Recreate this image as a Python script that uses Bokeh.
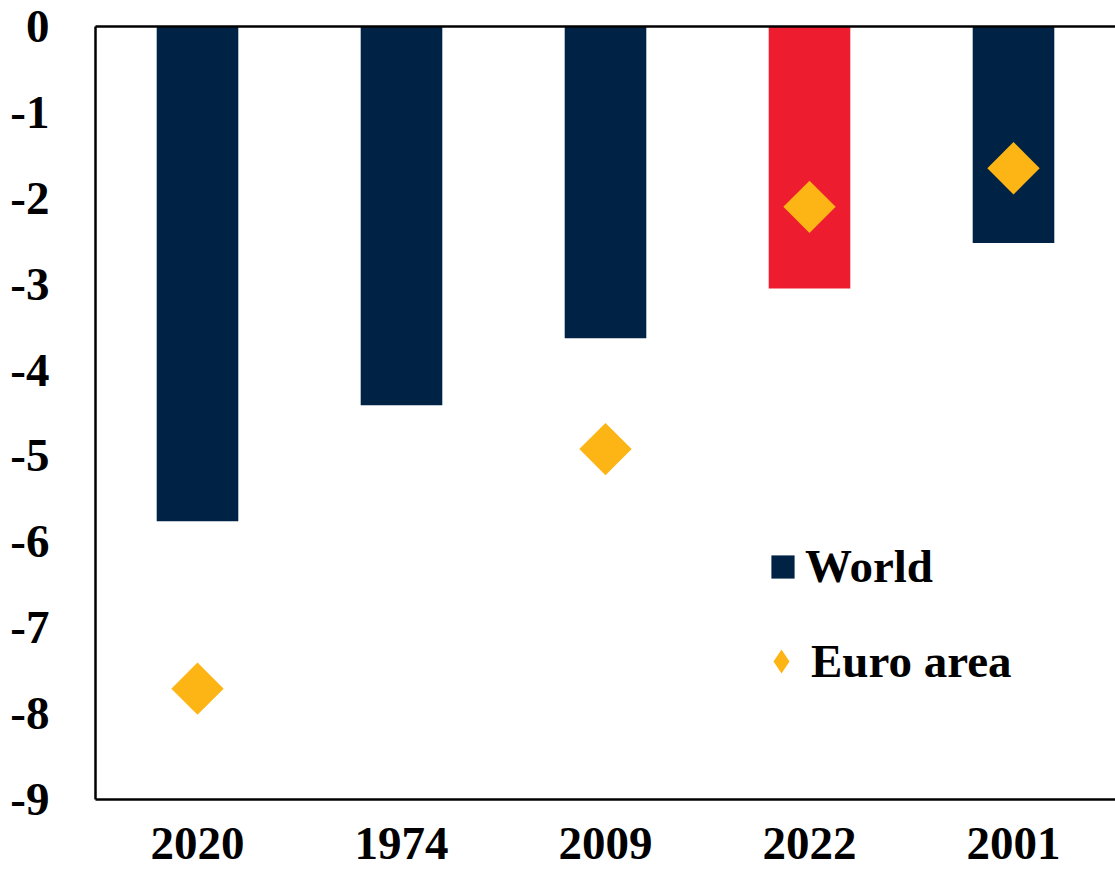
from bokeh.plotting import figure
from bokeh.models import Legend, LegendItem, CategoricalAxis, FactorRange, Range1d, ColumnDataSource
from bokeh.embed import file_html
from bokeh.resources import INLINE
import math

years = ["2020", "1974", "2009", "2022", "2001"]
world = [-5.76, -4.41, -3.63, -3.05, -2.52]
bar_colors = ["#002244", "#002244", "#002244", "#ED1C2E", "#002244"]
euro_years = ["2020", "2009", "2022", "2001"]
euro = [-7.71, -4.92, -2.10, -1.65]
y_ticks = [0, -1, -2, -3, -4, -5, -6, -7, -8, -9]
y_tick_labels = ["0", "-1", "-2", "-3", "-4", "-5", "-6", "-7", "-8", "-9"]

FONT = "Liberation Serif"
GOLD = "#FDB515"

p = figure(width=1115, height=875, x_range=FactorRange(*years), y_range=Range1d(-9, 0),
           output_backend="svg", toolbar_location=None,
           min_border_left=95, min_border_right=0, min_border_top=26, min_border_bottom=76)
p.outline_line_color = None
p.grid.grid_line_color = None
p.background_fill_color = "white"

src = ColumnDataSource(dict(x=years, top=world, color=bar_colors))
bars = p.vbar(x="x", top="top", bottom=0, width=0.4, color="color", source=src, line_color=None)
esrc = ColumnDataSource(dict(x=euro_years, y=euro))
# diamond-marker twin (fully covered by the rotated squares) used for the legend symbol
leg_dia = p.scatter(x="x", y="y", source=esrc, marker="diamond", size=20,
                    fill_color=GOLD, line_color=None)
dia = p.scatter(x="x", y="y", source=esrc, marker="square", angle=math.pi/4, size=37,
                fill_color=GOLD, line_color=None)

p.yaxis.ticker = y_ticks
p.yaxis.major_label_overrides = {t: s for t, s in zip(y_ticks, y_tick_labels)}
for ax in (p.xaxis, p.yaxis):
    ax.major_tick_line_color = None
    ax.minor_tick_line_color = None
    ax.axis_line_width = 2.5
    ax.axis_line_color = "black"
    ax.major_label_text_font = FONT
    ax.major_label_text_font_style = "bold"
    ax.major_label_text_font_size = "47px"
    ax.major_label_text_color = "black"
p.yaxis.major_label_standoff = 40
p.xaxis.major_label_standoff = 22

top_axis = CategoricalAxis(major_tick_line_color=None, minor_tick_line_color=None,
                           major_label_text_font_size="0px", major_label_standoff=0,
                           axis_line_width=2.5, axis_line_color="black")
p.add_layout(top_axis, "above")

common = dict(padding=0, margin=0, border_line_color=None, background_fill_alpha=0,
              label_text_font=FONT, label_text_font_style="bold", label_text_font_size="47px",
              label_text_color="black")
leg1 = Legend(items=[LegendItem(label="World", renderers=[bars], index=0)],
              location=(673, 206), glyph_width=29, glyph_height=29, label_standoff=8, **common)
leg2 = Legend(items=[LegendItem(label="Euro area", renderers=[leg_dia], index=0)],
              location=(656, 108), glyph_width=60, glyph_height=60, label_standoff=0, **common)
p.add_layout(leg1)
p.add_layout(leg2)

open("out.html", "w").write(file_html(p, INLINE))
